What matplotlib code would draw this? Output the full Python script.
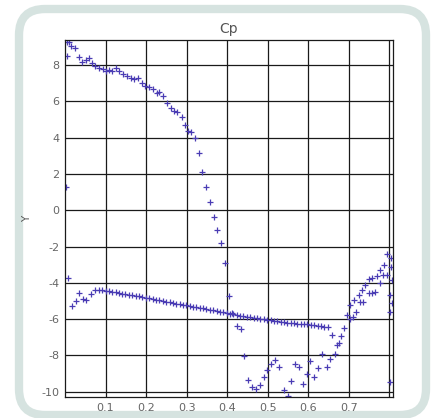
"""
Cp distribution, scatter of '+' markers on a black grid inside a rounded frame.
"""

import matplotlib
matplotlib.use("Agg")
import matplotlib.pyplot as plt
from matplotlib.patches import FancyBboxPatch

# upper surface, from the leading edge down through the steep drop
upper_x = [0.004, 0.005, 0.009, 0.014, 0.024, 0.035, 0.043, 0.051, 0.058, 0.066,
           0.074, 0.084, 0.093, 0.101, 0.109, 0.117, 0.127, 0.134, 0.143, 0.152,
           0.162, 0.171, 0.179, 0.189, 0.197, 0.206, 0.216, 0.226, 0.232, 0.241,
           0.251, 0.261, 0.269, 0.277, 0.288, 0.296, 0.304, 0.312, 0.320, 0.330,
           0.339, 0.349, 0.358, 0.367, 0.376, 0.385, 0.395, 0.404, 0.413, 0.423,
           0.433, 0.442, 0.452]
upper_y = [8.50, 9.29, 9.27, 9.05, 8.94, 8.46, 8.19, 8.28, 8.37, 8.10,
           7.95, 7.82, 7.77, 7.69, 7.73, 7.67, 7.82, 7.69, 7.51, 7.42,
           7.31, 7.23, 7.27, 7.03, 6.87, 6.78, 6.67, 6.45, 6.50, 6.30,
           5.93, 5.65, 5.47, 5.40, 5.12, 4.70, 4.37, 4.33, 4.00, 3.14,
           2.13, 1.30, 0.47, -0.35, -1.09, -1.82, -2.92, -4.71, -5.64, -6.37,
           -6.55, -8.03, -9.37]

# lower surface, slow decline
lower_x = [0.018, 0.026, 0.035, 0.045, 0.053, 0.064, 0.074, 0.083, 0.091,
           0.100, 0.108, 0.116, 0.125, 0.133, 0.141, 0.149, 0.158, 0.166, 0.174,
           0.183, 0.191, 0.199, 0.208, 0.216, 0.224, 0.233, 0.241, 0.249, 0.258,
           0.266, 0.274, 0.283, 0.291, 0.299, 0.308, 0.316, 0.324, 0.332, 0.341,
           0.349, 0.357, 0.366, 0.374, 0.382, 0.390, 0.399, 0.407, 0.415, 0.424,
           0.432, 0.440, 0.449, 0.457, 0.465, 0.474, 0.482, 0.490, 0.499, 0.507,
           0.515, 0.523, 0.532, 0.540, 0.548, 0.557, 0.565, 0.573, 0.582, 0.590,
           0.598, 0.607, 0.615, 0.623, 0.632, 0.640, 0.648]
lower_y = [-5.26, -5.00, -4.57, -4.89, -4.94, -4.63, -4.39, -4.39, -4.39,
           -4.43, -4.46, -4.50, -4.52, -4.55, -4.59, -4.62, -4.66, -4.69, -4.72,
           -4.75, -4.79, -4.82, -4.85, -4.89, -4.93, -4.96, -5.00, -5.04, -5.08,
           -5.10, -5.14, -5.17, -5.20, -5.24, -5.27, -5.31, -5.34, -5.38, -5.41,
           -5.45, -5.48, -5.52, -5.55, -5.59, -5.62, -5.66, -5.70, -5.73, -5.77,
           -5.81, -5.84, -5.87, -5.90, -5.93, -5.96, -5.99, -6.01, -6.04, -6.07,
           -6.10, -6.12, -6.15, -6.17, -6.19, -6.21, -6.23, -6.25, -6.26, -6.27,
           -6.28, -6.30, -6.33, -6.36, -6.40, -6.43, -6.45]

# scattered points near the trailing part
tail_x = [0.462, 0.471, 0.480, 0.490, 0.499, 0.508, 0.518, 0.528, 0.539, 0.549,
          0.557, 0.567, 0.577, 0.587, 0.596, 0.605, 0.615, 0.625, 0.635, 0.645,
          0.654, 0.658, 0.666, 0.672, 0.677, 0.680, 0.687, 0.695, 0.702, 0.703,
          0.710, 0.714, 0.718, 0.724, 0.728, 0.732, 0.736, 0.740, 0.749, 0.749,
          0.757, 0.757, 0.765, 0.769, 0.776, 0.777, 0.785, 0.787, 0.794, 0.795]
tail_y = [-9.76, -9.83, -9.65, -9.20, -8.80, -8.48, -8.27, -8.64, -9.92, -10.24,
          -9.42, -8.49, -8.65, -9.58, -9.03, -8.32, -9.21, -8.69, -7.94, -8.65,
          -8.17, -6.87, -7.90, -7.42, -7.33, -6.93, -6.50, -5.77, -6.01, -5.22,
          -5.86, -4.94, -5.59, -4.67, -5.04, -4.39, -5.04, -4.12, -4.57, -3.80,
          -4.54, -3.75, -4.48, -3.62, -4.02, -3.29, -3.56, -3.01, -3.56, -2.43]

# points sitting on the right edge and two strays on the left edge
edge_x = [0.804, 0.804, 0.806, 0.802, 0.806, 0.802, 0.802, 0.002, 0.008]
edge_y = [-2.65, -3.11, -3.84, -4.67, -5.09, -5.59, -9.44, 1.30, -3.72]

x_ticks = [0.1, 0.2, 0.3, 0.4, 0.5, 0.6, 0.7, 0.8]
x_tick_labels = ["0.1", "0.2", "0.3", "0.4", "0.5", "0.6", "0.7", ""]
y_ticks = [-10, -8, -6, -4, -2, 0, 2, 4, 6, 8]

W, H = 433, 418
plt.rcParams['axes.unicode_minus'] = False

fig = plt.figure(figsize=(W / 100, H / 100), dpi=100)
fig.patch.set_facecolor("white")

#rounded frame around the chart, kept behind the axes
frame = FancyBboxPatch((19 / W, 3 / H), 407 / W, 406 / H,
                       boxstyle="round,pad=0,rounding_size=0.06",
                       mutation_aspect=W / H,
                       transform=fig.transFigure, facecolor="white",
                       edgecolor="#d6e3e0", linewidth=6, zorder=-5)
fig.patches.append(frame)

ax = fig.add_axes([65 / W, 21 / H, 328 / W, 357 / H])
ax.set_zorder(2)
ax.set_facecolor("white")

mk = dict(linestyle="none", marker="+", markersize=4.5, mew=0.9, color="#4a3cb4", clip_on=True)
for xs, ys in [(upper_x, upper_y), (lower_x, lower_y), (tail_x, tail_y), (edge_x, edge_y)]:
    ax.plot(xs, ys, **mk)

ax.set_xlim(0, 0.809)
ax.set_ylim(-10.29, 9.38)
ax.set_xticks(x_ticks)
ax.set_xticklabels(x_tick_labels)
ax.set_yticks(y_ticks)
ax.grid(True, color="#1a1a1a", linewidth=0.9)
ax.set_axisbelow(True)
ax.tick_params(length=0, pad=4, labelsize=8, labelcolor="#666666")
for s in ax.spines.values():
    s.set_color("#1a1a1a")
    s.set_linewidth(0.9)

ax.set_title("Cp", fontsize=10, color="#555555", pad=5)
ax.set_ylabel("Y", fontsize=7.5, color="#555555")
ax.yaxis.set_label_coords(-0.1, 0.5)

fig.savefig("out.png", dpi=100)
